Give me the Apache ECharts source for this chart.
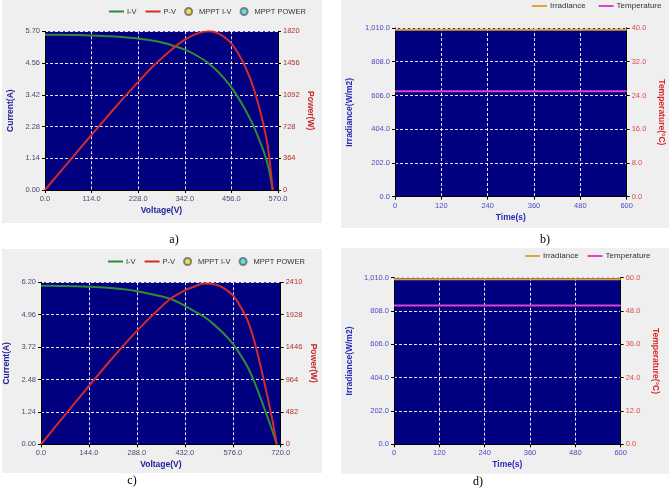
<!DOCTYPE html>
<html>
<head>
<meta charset="utf-8">
<script src="https://cdn.jsdelivr.net/npm/echarts@6/dist/echarts.min.js"></script>
<style>
html, body { margin: 0; padding: 0; background: #fff; }
#main { width: 669px; height: 491px; }
</style>
</head>
<body>
<div id="main"></div>
<script>
// ---- a) I-V / P-V curve, 25 C ----
var voltA    = [0, 40, 80, 114, 160, 200, 228, 270, 310, 342, 370, 400, 425, 450, 470, 490, 510, 530, 545, 557];
var currentA = [5.58, 5.575, 5.565, 5.55, 5.52, 5.48, 5.44, 5.35, 5.20, 5.04, 4.84, 4.55, 4.22, 3.80, 3.38, 2.88, 2.30, 1.58, 0.92, 0];
var powerA   = [0, 223, 445, 633, 883, 1096, 1240, 1445, 1612, 1724, 1791, 1820, 1794, 1710, 1589, 1411, 1173, 837, 501, 0];

// ---- c) I-V / P-V curve, 50 C ----
var voltC    = [0, 50, 100, 144, 200, 250, 288, 340, 390, 432, 460, 490, 520, 550, 576, 600, 620, 640, 660, 680, 695, 708];
var currentC = [6.07, 6.06, 6.05, 6.03, 5.99, 5.93, 5.86, 5.72, 5.56, 5.30, 5.10, 4.88, 4.58, 4.22, 3.85, 3.40, 2.98, 2.42, 1.75, 1.05, 0.52, 0];
var powerC   = [0, 303, 605, 868, 1198, 1483, 1688, 1945, 2168, 2290, 2346, 2391, 2382, 2321, 2218, 2040, 1848, 1549, 1155, 714, 361, 0];

// ---- b) / d) irradiance and temperature over time ----
var timeS  = [0, 120, 240, 360, 480, 600];
var irradB = [1000, 1000, 1000, 1000, 1000, 1000];
var tempB  = [25, 25, 25, 25, 25, 25];
var irradD = [1000, 1000, 1000, 1000, 1000, 1000];
var tempD  = [50, 50, 50, 50, 50, 50];

var legendIV = ['I-V', 'P-V', 'MPPT I-V', 'MPPT POWER'];
var legendEnv = ['Irradiance', 'Temperature'];
var lineItems = ['I-V', 'P-V', 'Irradiance', 'Temperature'];
var captions = ['a)', 'b)', 'c)', 'd)'];

var NAVY = '#000080', PANEL = '#efefef';
var GREEN = '#2f8c36', RED = '#d42a2a', ORANGE = '#e2a33a', MAGENTA = '#dd44cc';
var FONT = 'Liberation Sans';

function pairs(xs, ys) { return xs.map(function (x, k) { return [x, ys[k]]; }); }

function grid(left, top, width, height) {
  return { left: left, top: top, width: width, height: height, show: true,
    backgroundColor: NAVY, borderWidth: 0, outerBoundsMode: 'none', containLabel: false };
}

function dash() { return { show: true, lineStyle: { color: '#ffffff', type: [3, 2], width: 1, opacity: 0.9 } }; }

function xAxis(gi, max, interval, name, labelColor, nameColor, fmt) {
  return {
    type: 'value', gridIndex: gi, min: 0, max: max, interval: interval,
    name: name, nameLocation: 'middle', nameGap: 16,
    nameTextStyle: { color: nameColor, fontWeight: 'bold', fontSize: 8.5, fontFamily: FONT },
    axisLine: { show: true, onZero: false, lineStyle: { color: '#000', width: 1 } },
    axisTick: { show: true, length: 3, lineStyle: { color: '#000' } },
    axisLabel: { color: labelColor, fontSize: 7.5, fontFamily: FONT, margin: 5, formatter: fmt },
    splitLine: dash()
  };
}

function yAxis(gi, pos, max, interval, name, labelColor, nameColor, gap, fmt) {
  var right = pos === 'right';
  return {
    type: 'value', gridIndex: gi, position: pos, min: 0, max: max, interval: interval,
    name: name, nameLocation: 'middle', nameGap: gap, nameRotate: right ? -90 : 90,
    nameTextStyle: { color: nameColor, fontWeight: 'bold', fontSize: 8.5, fontFamily: FONT },
    axisLine: { show: true, onZero: false, lineStyle: { color: '#000', width: 1 } },
    axisTick: { show: true, length: 3, lineStyle: { color: '#000' } },
    axisLabel: { color: labelColor, fontSize: 7.5, fontFamily: FONT, margin: 5, formatter: fmt },
    splitLine: right ? { show: false } : dash()
  };
}

function f1(v) { return v.toFixed(1); }
function f2(v) { return v.toFixed(2); }
function f0(v) { return String(Math.round(v)); }
function fk(v) { return v.toLocaleString('en-US', { minimumFractionDigits: 1, maximumFractionDigits: 1 }); }

// line entries show only the stroke, no marker in the middle
function legend(left, top, names, size, gap) {
  return {
    left: left, top: top, padding: 0, itemWidth: 15, itemHeight: 7, itemGap: gap,
    textStyle: { color: '#333', fontSize: size, fontFamily: FONT, padding: [0, 0, 0, -2] },
    data: names.map(function (n) {
      return lineItems.indexOf(n) >= 0 ? { name: n, itemStyle: { opacity: 0 } } : { name: n };
    })
  };
}

function curve(name, data, color, xi, yi) {
  return { name: name, type: 'line', xAxisIndex: xi, yAxisIndex: yi, data: data,
    symbol: 'none', smooth: 0.35, lineStyle: { color: color, width: 2 }, itemStyle: { color: color } };
}

function mppt(name, color, xi, yi) {
  return { name: name, type: 'scatter', xAxisIndex: xi, yAxisIndex: yi, data: [],
    symbolSize: 7, itemStyle: { color: color, borderColor: '#666', borderWidth: 0.8 } };
}

var panelBg = [[2, 0, 320, 223], [341, 0, 328, 228], [2, 249, 320, 224], [341, 248, 328, 226]];
var captionPos = [[174, 240], [545, 240], [132, 481], [478, 482]];

var graphics = panelBg.map(function (r) {
  return { type: 'rect', z: -10, shape: { x: r[0], y: r[1], width: r[2], height: r[3] }, style: { fill: PANEL } };
}).concat(captions.map(function (t, k) {
  return { type: 'text', x: captionPos[k][0], y: captionPos[k][1],
    style: { text: t, fill: '#000', font: '12px "Liberation Serif"', textAlign: 'center', textVerticalAlign: 'middle' } };
}));

var option = {
  animation: false,
  backgroundColor: '#fff',
  graphic: graphics,
  grid: [
    grid(45, 31.3, 233, 158.7),
    grid(395, 28, 231.7, 168.7),
    grid(41, 282.3, 239.7, 162),
    grid(394, 277.7, 226.7, 166.6)
  ],
  legend: [
    legend(108, 7, legendIV, 7.5, 8),
    legend(531, 2, legendEnv, 8, 12),
    legend(107, 257, legendIV, 7.5, 8),
    legend(524, 252, legendEnv, 8, 8)
  ],
  xAxis: [
    xAxis(0, 570, 114, 'Voltage(V)', '#4a4a72', '#1e1e96', f1),
    xAxis(1, 600, 120, 'Time(s)', '#4a4ac4', '#2a2abc', f0),
    xAxis(2, 720, 144, 'Voltage(V)', '#4a4a72', '#1e1e96', f1),
    xAxis(3, 600, 120, 'Time(s)', '#4a4ac4', '#2a2abc', f0)
  ],
  yAxis: [
    yAxis(0, 'left', 5.70, 1.14, 'Current(A)', '#4a4a72', '#1e1e96', 30, f2),
    yAxis(0, 'right', 1820, 364, 'Power(W)', '#b03030', '#c42828', 28, f0),
    yAxis(1, 'left', 1010, 202, 'Irradiance(W/m2)', '#4a4ac4', '#2a2abc', 41, fk),
    yAxis(1, 'right', 40, 8, 'Temperature(°C)', '#e04848', '#d82828', 30, f1),
    yAxis(2, 'left', 6.20, 1.24, 'Current(A)', '#4a4a72', '#1e1e96', 30, f2),
    yAxis(2, 'right', 2410, 482, 'Power(W)', '#b03030', '#c42828', 28, f0),
    yAxis(3, 'left', 1010, 202, 'Irradiance(W/m2)', '#4a4ac4', '#2a2abc', 40, fk),
    yAxis(3, 'right', 60, 12, 'Temperature(°C)', '#e04848', '#d82828', 30, f1)
  ],
  series: [
    curve('I-V', pairs(voltA, currentA), GREEN, 0, 0),
    curve('P-V', pairs(voltA, powerA), RED, 0, 1),
    mppt('MPPT I-V', '#e8e020', 0, 0),
    mppt('MPPT POWER', '#40d8d8', 0, 1),
    curve('Irradiance', pairs(timeS, irradB), ORANGE, 1, 2),
    curve('Temperature', pairs(timeS, tempB), MAGENTA, 1, 3),
    curve('I-V', pairs(voltC, currentC), GREEN, 2, 4),
    curve('P-V', pairs(voltC, powerC), RED, 2, 5),
    mppt('MPPT I-V', '#e8e020', 2, 4),
    mppt('MPPT POWER', '#40d8d8', 2, 5),
    curve('Irradiance', pairs(timeS, irradD), ORANGE, 3, 6),
    curve('Temperature', pairs(timeS, tempD), MAGENTA, 3, 7)
  ]
};

var myChart = echarts.init(document.getElementById('main'));
myChart.setOption(option);
</script>
</body>
</html>
